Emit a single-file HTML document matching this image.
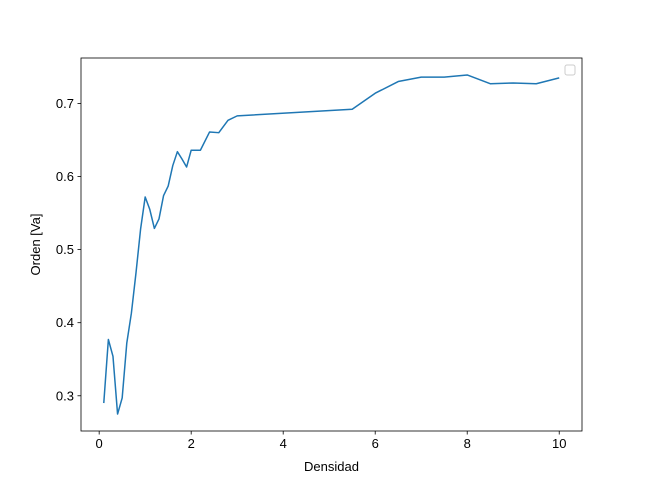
<!DOCTYPE html>
<html><head><meta charset="utf-8"><style>body{margin:0;background:#fff}svg{display:block}text{font-family:"Liberation Sans","DejaVu Sans",sans-serif;font-size:13px;fill:#000}</style></head>
<body>
<svg id="chart" width="647" height="484">
<rect x="0" y="0" width="647" height="484" fill="#fff"/>
<g id="plot"></g>
</svg>
<script>
const xValues=[0.1,0.2,0.3,0.4,0.5,0.6,0.7,0.8,0.9,1.0,1.1,1.2,1.3,1.4,1.5,1.6,1.7,1.8,1.9,2.0,2.2,2.4,2.6,2.8,3.0,5.5,6.0,6.5,7.0,7.5,8.0,8.5,9.0,9.5,10.0];
const yValues=[0.290,0.377,0.354,0.275,0.297,0.372,0.413,0.468,0.528,0.572,0.555,0.529,0.542,0.574,0.587,0.615,0.634,0.624,0.613,0.636,0.636,0.661,0.660,0.677,0.683,0.692,0.714,0.730,0.736,0.736,0.739,0.727,0.728,0.727,0.735];
const xTicks=[0,2,4,6,8,10];
const yTicks=[0.3,0.4,0.5,0.6,0.7];
const NS="http://www.w3.org/2000/svg";
const L=81,R=582,T=58,B=431;
const xmn=Math.min(...xValues),xmx=Math.max(...xValues),ymn=Math.min(...yValues),ymx=Math.max(...yValues);
const x0=xmn-(xmx-xmn)*0.05,x1=xmx+(xmx-xmn)*0.05,y0=ymn-(ymx-ymn)*0.05,y1=ymx+(ymx-ymn)*0.05;
const sx=v=>L+(v-x0)/(x1-x0)*(R-L);
const sy=v=>B-(v-y0)/(y1-y0)*(B-T);
const g=document.getElementById('plot');
function mk(t,a){const e=document.createElementNS(NS,t);for(const k in a)e.setAttribute(k,a[k]);g.appendChild(e);return e;}
const line=mk('polyline',{points:xValues.map((x,i)=>sx(x)+','+sy(yValues[i])).join(' '),fill:'none',stroke:'#1f77b4','stroke-width':1.5,'stroke-linejoin':'round'});


const frame=mk('rect',{x:L,y:T,width:R-L,height:B-T,fill:'none',stroke:'#000','stroke-width':0.8});


xTicks.forEach(t=>{const x=sx(t);
 const tk=mk('line',{x1:x,x2:x,y1:B,y2:B+3.5,stroke:'#000','stroke-width':0.8});
 
 
 const lb=mk('text',{x:x,y:B+17,'text-anchor':'middle'});lb.textContent=t;
 
 });
yTicks.forEach(t=>{const y=sy(t);
 const tk=mk('line',{x1:L-3.5,x2:L,y1:y,y2:y,stroke:'#000','stroke-width':0.8});
 
 
 const lb=mk('text',{x:L-7,y:y+4.5,'text-anchor':'end'});lb.textContent=t.toFixed(1);
 
 });
const xt=mk('text',{x:(L+R)/2,y:471,'text-anchor':'middle'});xt.textContent='Densidad';


const yt=mk('text',{x:0,y:0,'text-anchor':'middle',transform:`translate(40,${(T+B)/2}) rotate(-90)`});yt.textContent='Orden [Va]';


const lg=mk('rect',{x:565,y:65,width:10,height:10,rx:2,fill:'#fff',stroke:'#ccc','stroke-width':1});


</script>
</body></html>
